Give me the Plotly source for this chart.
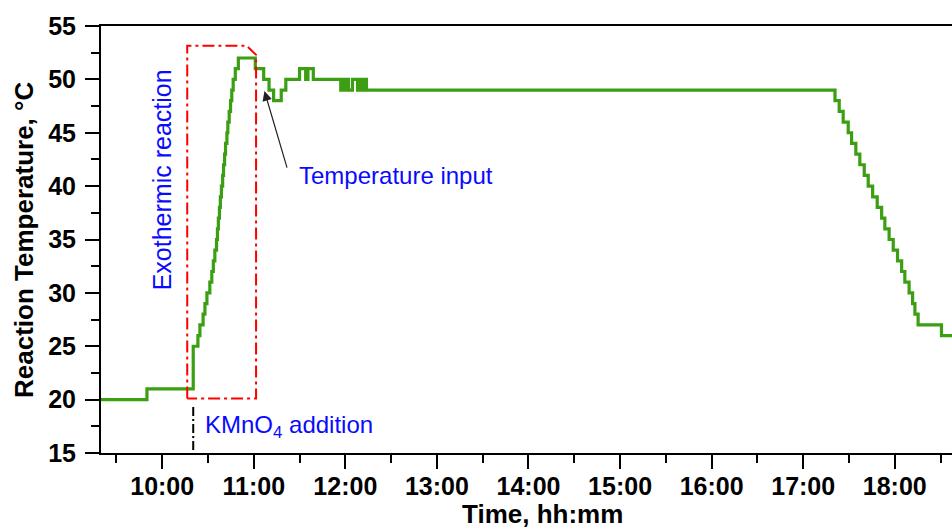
import plotly.graph_objects as go
import pandas as pd

DAY = "2024-01-01 "

# ---- data: reaction temperature log (step changes) ----
times = [
    "09:19:00", "09:50:00", "10:20:20", "10:23:24", "10:24:42", "10:26:48", "10:28:00",
    "10:29:18", "10:31:12", "10:32:30", "10:33:30", "10:34:30", "10:35:36", "10:36:12",
    "10:36:48", "10:37:30", "10:38:06", "10:38:48", "10:39:36", "10:40:12", "10:40:54",
    "10:41:30", "10:42:24", "10:43:00", "10:43:54", "10:44:48", "10:45:36", "10:46:30",
    "10:47:54", "10:49:54", "11:01:00", "11:06:30", "11:10:00", "11:13:00", "11:18:00",
    "11:21:00", "11:30:00", "11:34:00", "11:35:30", "11:39:00", "11:57:00", "11:58:00",
    "11:59:30", "12:00:40", "12:02:00", "12:04:40", "12:08:00", "12:09:10", "12:10:30",
    "12:11:50", "12:13:50", "17:20:50", "17:23:36", "17:26:12", "17:29:30", "17:31:42",
    "17:34:30", "17:37:06", "17:40:00", "17:42:36", "17:45:30", "17:48:30", "17:51:24",
    "17:53:30", "17:56:18", "17:59:00", "18:01:48", "18:04:30", "18:06:36", "18:09:24",
    "18:11:42", "18:13:12", "18:15:18", "18:30:36", "18:45:00",
]
temps = [
    20, 21, 25, 26, 27, 28, 29,
    30, 31, 32, 33, 34, 35, 36,
    37, 38, 39, 40, 41, 42, 43,
    44, 45, 46, 47, 48, 49, 50,
    51, 52, 51, 50, 49, 48, 49,
    50, 51, 50, 51, 50, 49, 50,
    49, 50, 49, 50, 49, 50, 49,
    50, 49, 48, 47, 46, 45, 44,
    43, 42, 41, 40, 39, 38, 37,
    36, 35, 34, 33, 32, 31, 30,
    29, 28, 27, 26, 26,
]

# annotation geometry (data units)
box_t = ["10:16:24", "10:16:24", "10:55:18", "11:01:30", "11:01:30", "10:16:24"]
box_v = [20.1, 53.15, 53.15, 52.3, 20.1, 20.1]
add_t = ["10:20:20", "10:20:20"]
add_v = [19.3, 15]

x_range = ["09:19:54", "18:37:30"]
y_range = [15, 55]

W, H = 952, 529
ML, MR, MT, MB = 101, 0, 26, 76
PW, PH = W - ML - MR, H - MT - MB

def px_x(p):
    return (p - ML) / PW

def px_y(p):
    return (H - MB - p) / PH

FONT = "Liberation Sans, Arial, sans-serif"
GREEN = "#3c9e12"

fig = go.Figure()
fig.add_trace(go.Scatter(
    x=[DAY + t for t in times], y=temps, mode="lines", line_shape="hv",
    line=dict(color=GREEN, width=3.2), hoverinfo="skip", showlegend=False))
fig.add_trace(go.Scatter(
    x=[DAY + t for t in box_t], y=box_v, mode="lines",
    line=dict(color="#ff0000", width=2, dash="12px,4px,3px,4px"),
    hoverinfo="skip", showlegend=False))
fig.add_trace(go.Scatter(
    x=[DAY + t for t in add_t], y=add_v, mode="lines",
    line=dict(color="black", width=2, dash="9px,3px,2px,3px"),
    hoverinfo="skip", showlegend=False, cliponaxis=False))

ann_font = dict(family=FONT, size=24, color="#0a0aff")
annotations = [
    dict(x=DAY + "11:07:00", y=48.9, xref="x", yref="y", text="", showarrow=True,
         ax=23, ay=78, arrowhead=2, arrowsize=1.6, arrowwidth=1.2, arrowcolor="#222"),
    dict(x=DAY + "11:28:00", y=41.0, xref="x", yref="y", text="Temperature input",
         showarrow=False, xanchor="left", yanchor="middle", font=ann_font),
    dict(x=DAY + "10:26:30", y=17.45, xref="x", yref="y", text="KMnO<sub>4</sub> addition",
         showarrow=False, xanchor="left", yanchor="middle", font=ann_font),
    dict(x=DAY + "09:59:36", y=40.6, xref="x", yref="y", text="Exothermic reaction",
         textangle=-90, showarrow=False, xanchor="center", yanchor="middle",
         font=dict(family=FONT, size=25, color="#0a0aff")),
    dict(x=px_x(542), y=px_y(514), xref="paper", yref="paper", text="Time, hh:mm",
         showarrow=False, xanchor="center", yanchor="middle",
         font=dict(family=FONT, size=26, color="black", weight="bold")),
    dict(x=px_x(24), y=px_y(240), xref="paper", yref="paper", text="Reaction Temperature, °C",
         textangle=-90, showarrow=False, xanchor="center", yanchor="middle",
         font=dict(family=FONT, size=26, color="black", weight="bold")),
]

tickfont = dict(family=FONT, size=25, color="black", weight="bold")
fig.update_layout(
    width=W, height=H, margin=dict(l=ML, r=MR, t=MT, b=MB),
    paper_bgcolor="white", plot_bgcolor="white",
    annotations=annotations,
    xaxis=dict(type="date", range=[DAY + x_range[0], DAY + x_range[1]],
               tick0=DAY + "10:00:00", dtick=3600000, tickformat="%H:%M",
               ticks="outside", ticklen=14, tickwidth=2, tickcolor="black",
               minor=dict(dtick=1800000, ticks="outside", ticklen=8, tickwidth=2, tickcolor="black"),
               showline=True, linewidth=2, linecolor="black", mirror=True,
               showgrid=False, zeroline=False, tickfont=tickfont, ticklabelstandoff=-4),
    yaxis=dict(range=y_range, dtick=5, tick0=15,
               ticks="outside", ticklen=14, tickwidth=2, tickcolor="black",
               minor=dict(dtick=2.5, ticks="outside", ticklen=8, tickwidth=2, tickcolor="black"),
               showline=True, linewidth=2, linecolor="black", mirror=False,
               showgrid=False, zeroline=False, tickfont=tickfont, ticklabelstandoff=4),
)

fig.write_html("out.html")
